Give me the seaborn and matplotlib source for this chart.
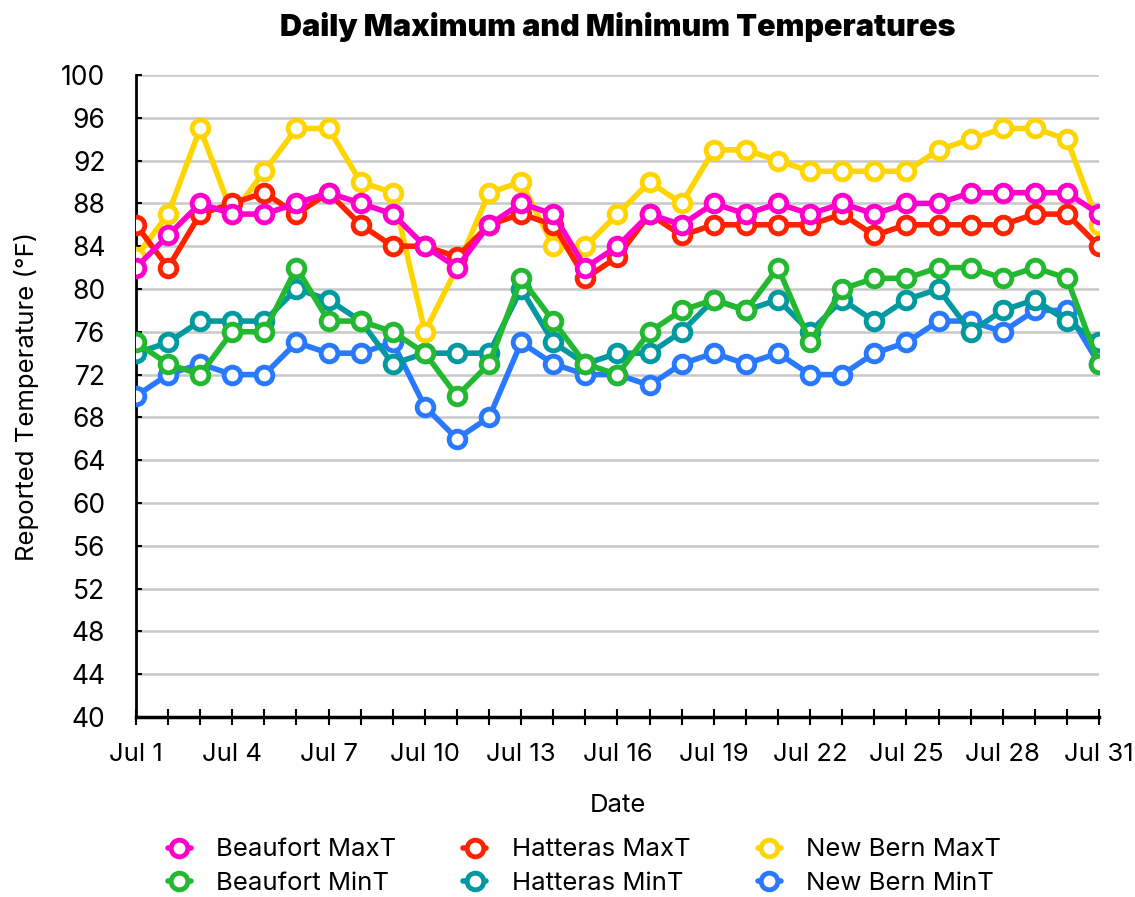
import pandas as pd
import matplotlib.pyplot as plt
import seaborn as sns

# Daily values, Jul 1 - Jul 31
days = list(range(1, 32))
day_labels = ['Jul %d' % d for d in days]

beaufort_max = [82, 85, 88, 87, 87, 88, 89, 88, 87, 84, 82, 86, 88, 87, 82, 84,
                87, 86, 88, 87, 88, 87, 88, 87, 88, 88, 89, 89, 89, 89, 87]
hatteras_max = [86, 82, 87, 88, 89, 87, 89, 86, 84, 84, 83, 86, 87, 86, 81, 83,
                87, 85, 86, 86, 86, 86, 87, 85, 86, 86, 86, 86, 87, 87, 84]
newbern_max = [83, 87, 95, 87, 91, 95, 95, 90, 89, 76, 82, 89, 90, 84, 84, 87,
               90, 88, 93, 93, 92, 91, 91, 91, 91, 93, 94, 95, 95, 94, 86]
beaufort_min = [75, 73, 72, 76, 76, 82, 77, 77, 76, 74, 70, 73, 81, 77, 73, 72,
                76, 78, 79, 78, 82, 75, 80, 81, 81, 82, 82, 81, 82, 81, 73]
hatteras_min = [74, 75, 77, 77, 77, 80, 79, 77, 73, 74, 74, 74, 80, 75, 73, 74,
                74, 76, 79, 78, 79, 76, 79, 77, 79, 80, 76, 78, 79, 77, 75]
newbern_min = [70, 72, 73, 72, 72, 75, 74, 74, 75, 69, 66, 68, 75, 73, 72, 72,
               71, 73, 74, 73, 74, 72, 72, 74, 75, 77, 77, 76, 78, 78, 73]

series = {
    'Beaufort MaxT': beaufort_max,
    'Hatteras MaxT': hatteras_max,
    'New Bern MaxT': newbern_max,
    'Beaufort MinT': beaufort_min,
    'Hatteras MinT': hatteras_min,
    'New Bern MinT': newbern_min,
}
colors = {
    'Beaufort MaxT': '#ff00cc',
    'Hatteras MaxT': '#ff2200',
    'New Bern MaxT': '#ffd500',
    'Beaufort MinT': '#22b830',
    'Hatteras MinT': '#00999f',
    'New Bern MinT': '#2979ff',
}
# Beaufort drawn on top, New Bern MinT at the bottom
zorders = {
    'Beaufort MaxT': 8, 'Hatteras MaxT': 7, 'New Bern MaxT': 6,
    'Beaufort MinT': 5, 'Hatteras MinT': 4, 'New Bern MinT': 3,
}

df = pd.DataFrame([
    {'day': d, 'temp': v, 'series': name}
    for name, vals in series.items() for d, v in zip(days, vals)
])

sns.set_style('white')
plt.rcParams['font.family'] = ['Inter', 'DejaVu Sans']
plt.rcParams['text.color'] = 'black'
plt.rcParams['axes.labelcolor'] = 'black'
plt.rcParams['xtick.color'] = 'black'
plt.rcParams['ytick.color'] = 'black'

fig = plt.figure(figsize=(11.35, 8.97), dpi=100)
ax = fig.add_axes([0.1198, 0.2007, 0.8485, 0.7157])

for name in series:
    sub = df[df['series'] == name]
    sns.lineplot(data=sub, x='day', y='temp', ax=ax, color=colors[name],
                 linewidth=4, marker='o', markersize=12,
                 markerfacecolor='white', markeredgecolor=colors[name],
                 markeredgewidth=3.5, label=name, zorder=zorders[name])

ax.set_xlim(1, 31)
ax.set_ylim(40, 100)
ax.set_yticks(range(40, 101, 4))
ax.set_xticks(days, minor=True)
ax.set_xticks(days[::3])
ax.set_xticklabels(day_labels[::3])
ax.grid(axis='y', color='#c8c8c8', linewidth=1.8, zorder=0)
ax.set_axisbelow(True)

for s in ['top', 'right']:
    ax.spines[s].set_visible(False)
ax.spines['left'].set_color('black')
ax.spines['left'].set_linewidth(2)
ax.spines['bottom'].set_color('black')
ax.spines['bottom'].set_linewidth(2.5)

ax.tick_params(axis='y', which='major', length=4, width=1.5, left=True,
               direction='in', labelsize=19, pad=22)
ax.tick_params(axis='x', which='both', length=12, width=1.5, bottom=True,
               direction='inout', labelsize=18.5, pad=13)
ax.tick_params(axis='x', which='minor', labelbottom=False)

ax.set_xlabel('Date', fontsize=18.5, labelpad=20)
ax.set_ylabel('Reported Temperature (°F)', fontsize=18.5, labelpad=16)
ax.set_title('Daily Maximum and Minimum Temperatures', fontsize=22,
             fontweight='black', pad=28)

handles, labels = ax.get_legend_handles_labels()
order = [0, 3, 1, 4, 2, 5]
ax.legend([handles[i] for i in order], [labels[i] for i in order],
          loc='upper center', bbox_to_anchor=(0.515, 0.091),
          bbox_transform=fig.transFigure, ncol=3,
          frameon=False, fontsize=18.5, handlelength=0.9, columnspacing=2.6,
          labelspacing=0.4, handletextpad=1.0)

plt.savefig('out.png', dpi=100)
